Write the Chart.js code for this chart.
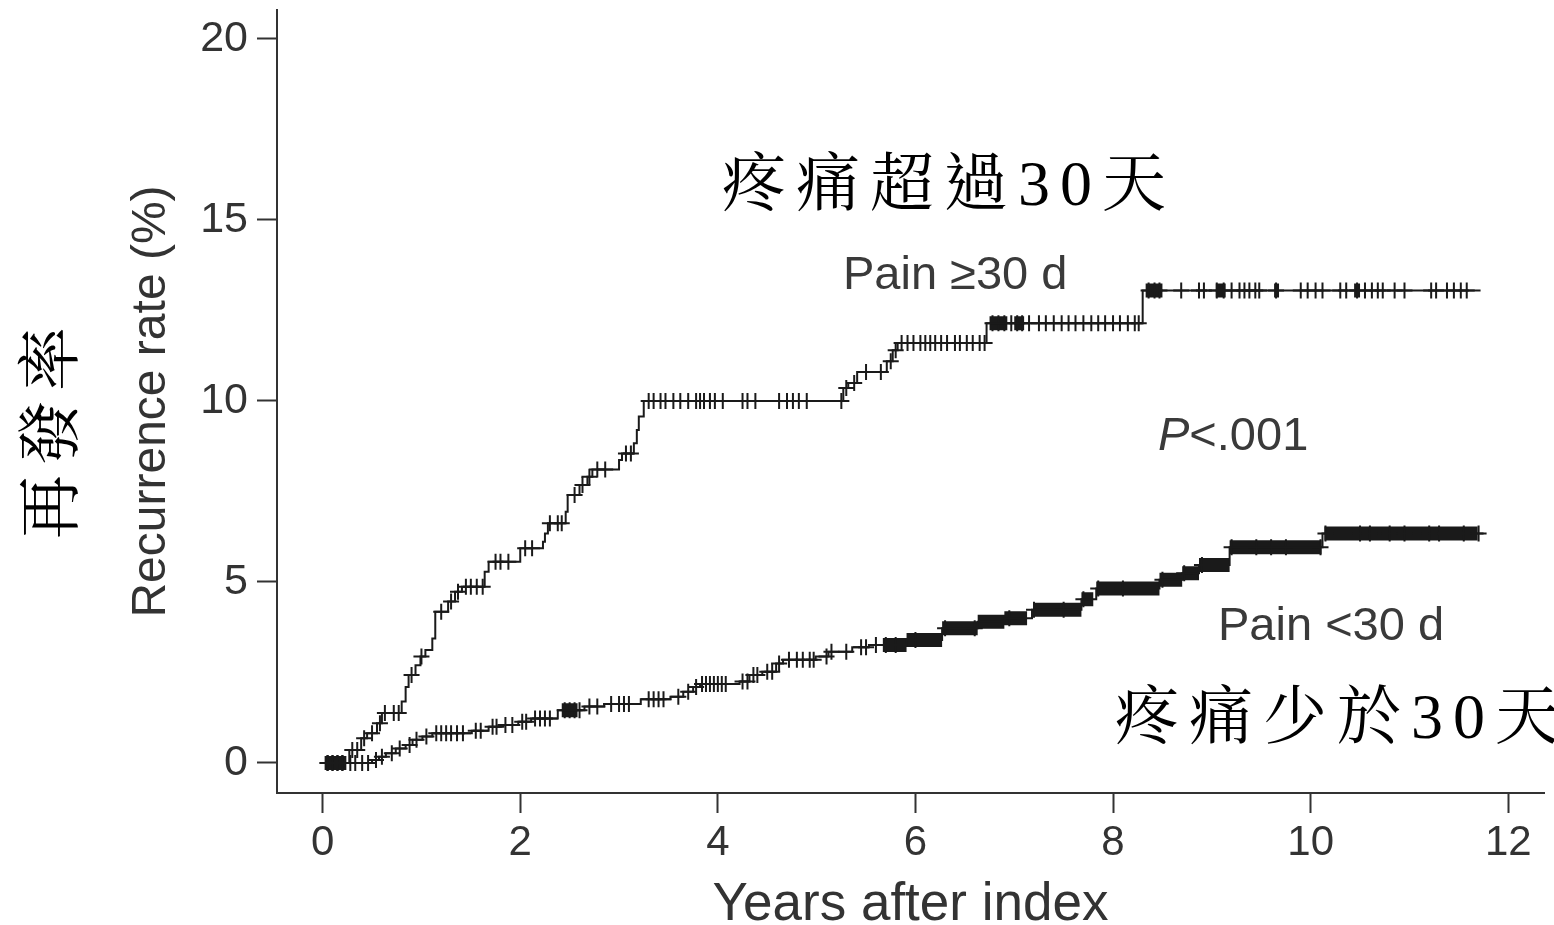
<!DOCTYPE html>
<html>
<head>
<meta charset="utf-8">
<script src="https://cdn.jsdelivr.net/npm/chart.js@4.4.1/dist/chart.umd.min.js"></script>
<style>
  html, body { margin: 0; padding: 0; background: #fff; }
  canvas { display: block; }
</style>
</head>
<body>
<canvas id="kmChart" width="1554" height="925"></canvas>
<script>
// tick labels
const xTicks = [0, 2, 4, 6, 8, 10, 12];
const yTicks = [0, 5, 10, 15, 20];

// Pain >= 30 d : event times (years) and cumulative recurrence (%)
const upperT = [0, 0.27, 0.39, 0.45, 0.55, 0.6, 0.8, 0.84, 0.87, 0.94,
  0.99, 1.04, 1.11, 1.14, 1.27, 1.34, 1.41, 1.64, 1.68, 2.0,
  2.23, 2.25, 2.28, 2.46, 2.48, 2.6, 2.68, 2.73, 3.0, 3.03,
  3.15, 3.18, 3.2, 3.25, 5.27, 5.32, 5.41, 5.71, 5.77, 5.82,
  6.72, 8.3, 11.72];
const upperRate = [0, 0.36, 0.68, 0.82, 1.1, 1.38, 1.7, 2.1, 2.43, 2.7,
  2.94, 3.12, 3.44, 4.18, 4.46, 4.73, 4.87, 5.28, 5.56, 5.93,
  6.11, 6.34, 6.62, 6.94, 7.4, 7.68, 7.91, 8.11, 8.37, 8.55,
  8.83, 9.2, 9.57, 10.0, 10.36, 10.5, 10.8, 11.1, 11.4, 11.6,
  12.15, 13.05, 13.05];
const upperCensor = [0.05, 0.1, 0.15, 0.2, 0.3, 0.35, 0.42, 0.5, 0.58, 0.63, 0.72, 0.77, 0.9, 1.0,
  1.2, 1.3, 1.37, 1.45, 1.5, 1.56, 1.62, 1.75, 1.8, 1.88, 2.05, 2.12, 2.3, 2.38, 2.42, 2.55,
  2.63, 2.7, 2.78, 2.86, 3.07, 3.12, 3.3, 3.35, 3.42, 3.47, 3.55, 3.62, 3.7, 3.78, 3.82, 3.86,
  3.92, 3.97, 4.05, 4.25, 4.3, 4.38, 4.62, 4.7, 4.76, 4.82, 4.9, 5.25, 5.3, 5.38, 5.5, 5.65,
  5.75, 5.8, 5.86, 5.92, 5.98, 6.05, 6.1, 6.15, 6.2, 6.26, 6.32, 6.4, 6.45, 6.52, 6.58, 6.65,
  6.7, 6.78, 6.84, 6.9, 6.97, 7.03, 7.08, 7.15, 7.25, 7.32, 7.4, 7.48, 7.55, 7.62, 7.7, 7.78,
  7.85, 7.92, 8.0, 8.07, 8.15, 8.22, 8.26, 8.36, 8.42, 8.47, 8.69, 8.87, 8.92, 9.05, 9.12,
  9.2, 9.28, 9.33, 9.38, 9.44, 9.48, 9.65, 9.9, 9.97, 10.05, 10.12, 10.3, 10.36, 10.47,
  10.55, 10.62, 10.68, 10.73, 10.85, 10.95, 11.22, 11.27, 11.38, 11.45, 11.52, 11.58];
// stretches where censor marks run together into a solid bar
const upperBandStart = [6.75, 7.0, 8.33, 9.04, 9.63, 10.44];
const upperBandEnd = [6.93, 7.1, 8.5, 9.14, 9.68, 10.5];

// Pain < 30 d
const lowerT = [0, 0.5, 0.57, 0.64, 0.74, 0.84, 0.91, 1.01, 1.11, 1.51,
  1.68, 1.81, 1.98, 2.11, 2.38, 2.65, 2.85, 3.22, 3.52, 3.65,
  3.75, 3.82, 4.22, 4.32, 4.45, 4.59, 4.66, 4.99, 5.12, 5.36,
  5.53, 5.91, 6.27, 6.63, 6.9, 7.18, 7.68, 7.83, 8.47, 8.7,
  8.87, 9.18, 10.12, 11.75];
const lowerRate = [0, 0.08, 0.17, 0.27, 0.4, 0.5, 0.64, 0.73, 0.82, 0.89,
  1.0, 1.05, 1.14, 1.23, 1.46, 1.56, 1.63, 1.76, 1.83, 1.97,
  2.1, 2.18, 2.25, 2.43, 2.52, 2.75, 2.85, 2.94, 3.07, 3.2,
  3.26, 3.4, 3.72, 3.9, 4.0, 4.23, 4.52, 4.82, 5.06, 5.24,
  5.47, 5.96, 6.34, 6.34];
const lowerCensor = [0.05, 0.1, 0.15, 0.2, 0.28, 0.33, 0.4, 0.46, 0.54, 0.6, 0.7, 0.78, 0.88, 0.95,
  1.05, 1.15, 1.2, 1.25, 1.3, 1.36, 1.42, 1.55, 1.6, 1.72, 1.76, 1.85, 1.92, 2.02, 2.06, 2.15,
  2.2, 2.25, 2.3, 2.45, 2.5, 2.55, 2.6, 2.7, 2.78, 2.92, 3.0, 3.05, 3.1, 3.3, 3.35, 3.4, 3.45,
  3.6, 3.7, 3.78, 3.84, 3.88, 3.92, 3.96, 4.0, 4.04, 4.08, 4.25, 4.3, 4.36, 4.4, 4.5, 4.55,
  4.62, 4.72, 4.8, 4.86, 4.93, 4.97, 5.1, 5.15, 5.3, 5.45, 5.5, 5.6, 5.7, 5.8, 6.0, 6.3, 6.6,
  6.95, 7.2, 7.5, 7.7, 7.85, 8.1, 8.5, 8.72, 8.9, 9.2, 9.45, 9.6, 9.75, 10.1, 10.15, 10.5,
  10.6, 10.8, 10.95, 11.2, 11.3, 11.55, 11.7];
const lowerBandStart = [0.02, 2.42, 5.67, 5.91, 6.27, 6.63, 6.9, 7.2, 7.68, 7.83, 8.47, 8.7, 8.87, 9.18, 10.14];
const lowerBandEnd = [0.24, 2.58, 5.91, 6.27, 6.63, 6.9, 7.13, 7.68, 7.8, 8.47, 8.7, 8.87, 9.18, 10.11, 11.69];

const INK = '#1a1a1a';
const GREY = '#333333';
const LATIN = '"Liberation Sans", Arial, sans-serif';
const CJK = '"Liberation Serif", "Noto Serif CJK TC", "Noto Sans CJK TC", serif';

// cumulative rate of a step curve at time t
function rateAt(times, rates, t) {
    let r = rates[0];
    for (let i = 0; i < times.length; i++) {
        if (times[i] <= t) r = rates[i];
    }
    return r;
}

function stepPoints(times, rates) {
    return times.map((t, i) => ({ x: t, y: rates[i] }));
}

function censorPoints(censor, times, rates) {
    return censor.map(t => ({ x: t, y: rateAt(times, rates, t) }));
}

function bandPoints(starts, ends, times, rates) {
    const pts = [];
    starts.forEach((s, i) => {
        const r = rateAt(times, rates, s + 0.001);
        pts.push({ x: s, y: r }, { x: ends[i], y: r }, { x: ends[i], y: null });
    });
    return pts;
}

// 'before' = horizontal at the old level, then vertical at the event time
const stepStyle = { borderColor: INK, borderWidth: 2, pointRadius: 0, stepped: 'before', fill: false };
const censorStyle = { showLine: false, pointStyle: 'cross', pointRadius: 8, pointBorderWidth: 2,
    pointBorderColor: INK, borderColor: INK, pointHoverRadius: 8 };
const bandStyle = { borderColor: INK, borderWidth: 14, borderCapStyle: 'butt', pointRadius: 0, spanGaps: false, fill: false };

// free text written on the chart
const textPlugin = {
    id: 'labels',
    afterDraw(chart) {
        const ctx = chart.ctx;
        ctx.save();
        ctx.textBaseline = 'middle';
        ctx.textAlign = 'left';

        ctx.fillStyle = '#3a3a3a';
        ctx.font = '47px ' + LATIN;
        ctx.fillText('Pain \u226530 d', 843, 276);
        ctx.fillText('Pain <30 d', 1218, 627);
        ctx.font = 'italic 47px ' + LATIN;
        ctx.fillText('P', 1158, 437);
        const pw = ctx.measureText('P').width;
        ctx.font = '47px ' + LATIN;
        ctx.fillText('<.001', 1158 + pw, 437);

        ctx.fillStyle = '#000';
        ctx.font = '64px ' + CJK;
        ctx.letterSpacing = '10px';
        ctx.fillText('疼痛超過30天', 722, 188);
        ctx.fillText('疼痛少於30天', 1115, 721);

        ctx.translate(55, 428);
        ctx.rotate(-Math.PI / 2);
        ctx.textAlign = 'center';
        ctx.fillText('再發率', 0, 0);
        ctx.restore();
    }
};

const config = {
    type: 'line',
    data: {
        datasets: [
            { label: 'Pain >=30 d', data: stepPoints(upperT, upperRate), ...stepStyle },
            { label: 'Pain >=30 d censored', data: censorPoints(upperCensor, upperT, upperRate), ...censorStyle },
            { label: 'Pain >=30 d dense', data: bandPoints(upperBandStart, upperBandEnd, upperT, upperRate), ...bandStyle },
            { label: 'Pain <30 d', data: stepPoints(lowerT, lowerRate), ...stepStyle },
            { label: 'Pain <30 d censored', data: censorPoints(lowerCensor, lowerT, lowerRate), ...censorStyle },
            { label: 'Pain <30 d dense', data: bandPoints(lowerBandStart, lowerBandEnd, lowerT, lowerRate), ...bandStyle },
        ],
    },
    options: {
        responsive: false,
        animation: false,
        devicePixelRatio: 1,
        layout: { padding: { top: 10, left: 0, right: 0, bottom: 0 } },
        plugins: {
            legend: { display: false },
            tooltip: { enabled: false },
        },
        scales: {
            x: {
                type: 'linear',
                min: -0.462,
                max: 12.362,
                afterBuildTicks: scale => { scale.ticks = xTicks.map(v => ({ value: v })); },
                afterFit: scale => { scale.height = 132; scale.paddingLeft = 0; scale.paddingRight = 0; },
                ticks: { font: { family: LATIN, size: 42 }, color: GREY, padding: 5, maxRotation: 0, autoSkip: false },
                grid: { drawOnChartArea: false, drawTicks: true, tickLength: 20, tickColor: GREY, tickWidth: 2 },
                border: { display: true, color: GREY, width: 2 },
                title: { display: true, text: 'Years after index', color: GREY,
                    font: { family: LATIN, size: 53, lineHeight: 1 }, padding: { top: 0, bottom: -7 } },
            },
            y: {
                type: 'linear',
                min: -0.829,
                max: 20.801,
                afterBuildTicks: scale => { scale.ticks = yTicks.map(v => ({ value: v })); },
                afterFit: scale => { scale.width = 277; scale.paddingTop = 0; scale.paddingBottom = 0; },
                ticks: { font: { family: LATIN, size: 43 }, color: GREY, padding: 9, autoSkip: false },
                grid: { drawOnChartArea: false, drawTicks: true, tickLength: 20, tickColor: GREY, tickWidth: 2 },
                border: { display: true, color: GREY, width: 2 },
                title: { display: true, text: 'Recurrence rate (%)', color: GREY,
                    font: { family: LATIN, size: 48 }, padding: { top: 123, bottom: 0 } },
            },
        },
    },
    plugins: [textPlugin],
};

const chart = new Chart(document.getElementById('kmChart').getContext('2d'), config);
</script>
</body>
</html>
